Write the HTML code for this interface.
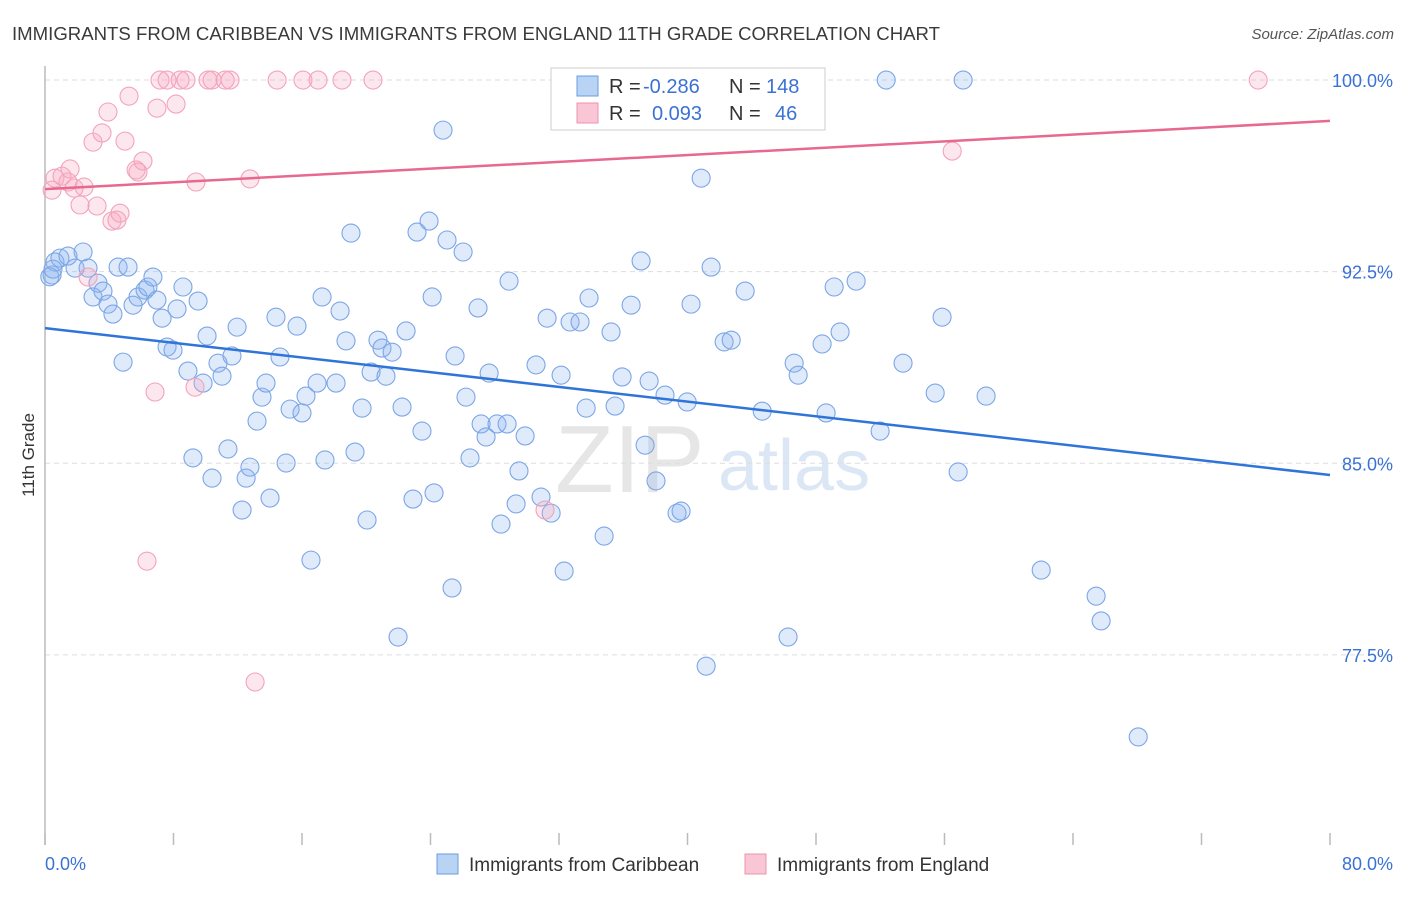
<!DOCTYPE html>
<html><head><meta charset="utf-8">
<style>
body{margin:0;background:#fff;font-family:"Liberation Sans",sans-serif;}
svg text{font-family:"Liberation Sans",sans-serif;}
</style></head>
<body>
<svg id="chart" width="1406" height="892" xmlns="http://www.w3.org/2000/svg">
<text x="12" y="40" font-size="18" fill="#3a3a3a" textLength="928" lengthAdjust="spacingAndGlyphs">IMMIGRANTS FROM CARIBBEAN VS IMMIGRANTS FROM ENGLAND 11TH GRADE CORRELATION CHART</text>
<text x="1394" y="39" font-size="15" fill="#555" font-style="italic" text-anchor="end">Source: ZipAtlas.com</text>
<text x="0" y="0" transform="translate(34,455) rotate(-90)" font-size="17" fill="#333" text-anchor="middle">11th Grade</text>
<g>
<text x="555" y="492" font-size="96" fill="#e6e6e6" font-family="Liberation Serif,serif">ZIP</text>
<text x="718" y="490" font-size="72" fill="#dce7f6">atlas</text>
</g>
<g id="grid"></g>
<g id="axes"></g>
<g id="pts"></g>
<g id="trend"></g>
<g>
<rect x="551" y="68" width="274" height="62" fill="#fff" stroke="#ccc"/>
<rect x="577" y="76" width="21" height="20" fill="#b9d3f5" stroke="#6a9be0"/>
<rect x="577" y="103" width="21" height="20" fill="#f9c6d5" stroke="#ef93b0"/>
<text x="609" y="93" font-size="20" fill="#333">R = <tspan fill="#3a72d4" x="643">-0.286</tspan></text>
<text x="729" y="93" font-size="20" fill="#333">N = <tspan fill="#3a72d4" x="766">148</tspan></text>
<text x="609" y="120" font-size="20" fill="#333">R = <tspan fill="#3a72d4" x="652">0.093</tspan></text>
<text x="729" y="120" font-size="20" fill="#333">N = <tspan fill="#3a72d4" x="775">46</tspan></text>
</g>
<g>
<rect x="437" y="854" width="21" height="20" fill="#b9d3f5" stroke="#6a9be0"/>
<text x="469" y="871" font-size="19" fill="#333">Immigrants from Caribbean</text>
<rect x="745" y="854" width="21" height="20" fill="#f9c6d5" stroke="#ef93b0"/>
<text x="777" y="871" font-size="19" fill="#333">Immigrants from England</text>
</g>
</svg>
<script>
const blueX=[0.44,0.62,0.93,1.43,1.87,2.37,2.68,2.99,3.30,3.61,3.92,4.23,4.55,4.86,5.17,5.48,5.79,6.23,6.41,6.72,6.97,7.29,7.60,7.97,8.22,8.59,8.90,9.21,9.53,9.84,10.09,10.40,10.77,11.02,11.39,11.64,11.96,12.27,12.52,12.76,13.20,13.51,13.76,14.01,14.38,14.63,15.01,15.26,15.69,16.00,16.25,16.56,16.94,17.25,17.43,18.12,18.37,18.74,19.05,19.30,19.74,20.05,20.30,20.73,20.98,21.23,21.61,21.98,22.23,22.48,22.91,23.16,23.47,23.91,24.10,24.22,24.78,25.03,25.34,25.53,26.03,26.21,26.46,26.96,27.15,27.46,27.65,28.14,28.39,28.77,28.89,29.33,29.51,29.89,30.57,30.88,31.26,31.51,32.13,32.32,32.69,33.31,33.69,33.87,34.81,35.24,35.49,35.93,36.49,37.11,37.36,37.61,38.04,38.60,39.35,39.60,39.98,40.22,40.85,41.16,41.47,42.28,42.72,43.59,44.65,46.26,46.64,46.89,48.63,48.38,49.13,49.50,50.50,51.99,52.37,53.42,55.42,55.85,56.85,57.16,58.59,62.02,65.44,65.75,68.06,0.3,0.5];
const blueY=[92.37,92.88,93.03,93.11,92.64,93.27,92.64,91.51,92.05,91.74,91.23,90.84,92.68,88.96,92.68,91.19,91.51,91.78,91.90,92.29,91.39,90.68,89.55,89.43,91.04,91.90,88.61,85.21,91.35,88.14,89.98,84.42,88.92,88.41,85.56,89.20,90.33,83.17,84.42,84.85,86.65,87.59,88.14,83.64,90.72,89.16,85.01,87.12,90.37,86.97,87.63,81.21,88.14,91.51,85.13,88.14,90.96,89.79,94.01,85.44,87.16,82.78,88.57,89.82,89.51,88.41,89.35,78.20,87.20,90.18,83.60,94.05,86.26,94.48,91.51,83.84,98.04,93.74,80.12,89.20,93.27,87.59,85.21,91.08,86.54,86.03,88.53,86.54,82.62,86.54,92.13,83.41,84.70,86.07,88.85,83.68,90.68,83.05,88.45,80.78,90.53,90.53,87.16,91.47,82.15,90.14,87.24,88.38,91.19,92.92,85.71,88.22,84.31,87.67,83.05,83.13,87.40,91.23,96.16,77.06,92.68,89.75,89.82,91.74,87.04,78.20,88.92,88.45,86.97,89.67,91.90,90.14,92.13,86.26,100,88.92,87.75,90.72,84.66,100,87.63,80.82,79.80,78.83,74.29,92.3,92.6];
const pinkX=[0.44,0.62,1.06,1.43,1.56,1.81,2.18,2.43,2.68,2.99,3.24,3.55,3.92,4.17,4.48,4.67,4.98,5.23,5.67,5.79,6.10,6.35,6.85,6.97,7.16,7.60,8.16,8.41,8.78,9.34,9.40,10.15,10.40,11.21,11.52,12.76,13.08,14.45,16.06,17.00,18.49,20.42,31.13,32.94,56.48,75.53];
const pinkY=[95.69,96.16,96.24,96.01,96.52,95.77,95.11,95.81,92.29,97.57,95.07,97.93,98.75,94.48,94.52,94.79,97.61,99.37,96.48,96.40,96.83,81.17,87.79,98.90,100,100,99.06,100,100,87.98,96.01,100,100,100,100,96.13,76.44,100,100,100,100,100,83.17,100,97.22,100];
const blueTrend=[90.29,84.54];
const pinkTrend=[95.73,98.40];
const yTicks=[100,92.5,85,77.5];
const yTickLabels=["100.0%","92.5%","85.0%","77.5%"];
const xTicks=[0,8,16,24,32,40,48,56,64,72,80];

const NS="http://www.w3.org/2000/svg";
const X0=45,X1=1330,Y0=845,Y1=66,XMIN=0,XMAX=80,YMIN=70.06,YMAX=100.55;
function sx(v){return X0+(v-XMIN)/(XMAX-XMIN)*(X1-X0);}
function sy(v){return Y0-(v-YMIN)/(YMAX-YMIN)*(Y0-Y1);}
function mk(tag,attrs,parent){const e=document.createElementNS(NS,tag);for(const k in attrs)e.setAttribute(k,attrs[k]);parent.appendChild(e);return e;}
const grid=document.getElementById('grid'),axes=document.getElementById('axes'),pts=document.getElementById('pts'),trend=document.getElementById('trend');
yTicks.forEach((t,i)=>{
  const l=mk('line',{x1:X0,x2:1395,y1:sy(t),y2:sy(t),stroke:'#ddd','stroke-dasharray':'5,4'},grid);
  
  
  const tx=mk('text',{x:1393,y:sy(t)+7,'font-size':18,fill:'#3a72d4','text-anchor':'end'},axes);
  tx.textContent=yTickLabels[i];
  
  
});
const yax=mk('line',{x1:X0,x2:X0,y1:Y1,y2:Y0,stroke:'#bbb','stroke-width':1.5},axes);


xTicks.forEach(t=>{
  const l=mk('line',{x1:sx(t),x2:sx(t),y1:833,y2:845,stroke:'#bbb','stroke-width':1.5},axes);
  
  
});
const xl0=mk('text',{x:45,y:870,'font-size':18,fill:'#3a72d4'},axes);xl0.textContent='0.0%';


const xl1=mk('text',{x:1393,y:870,'font-size':18,fill:'#3a72d4','text-anchor':'end'},axes);xl1.textContent='80.0%';


blueX.forEach((v,i)=>{
  const c=mk('circle',{cx:sx(v),cy:sy(blueY[i]),r:9,fill:'rgba(140,180,240,0.28)',stroke:'#7ca6e6','stroke-width':1.1},pts);
  
  
});
pinkX.forEach((v,i)=>{
  const c=mk('circle',{cx:sx(v),cy:sy(pinkY[i]),r:9,fill:'rgba(248,170,195,0.28)',stroke:'#f3a3bb','stroke-width':1.1},pts);
  
  
});
const bl=mk('line',{x1:sx(XMIN),x2:sx(XMAX),y1:sy(blueTrend[0]),y2:sy(blueTrend[1]),stroke:'#2f74d8','stroke-width':2.5},trend);


const pl=mk('line',{x1:sx(XMIN),x2:sx(XMAX),y1:sy(pinkTrend[0]),y2:sy(pinkTrend[1]),stroke:'#e8688f','stroke-width':2.5},trend);


</script>
</body></html>
